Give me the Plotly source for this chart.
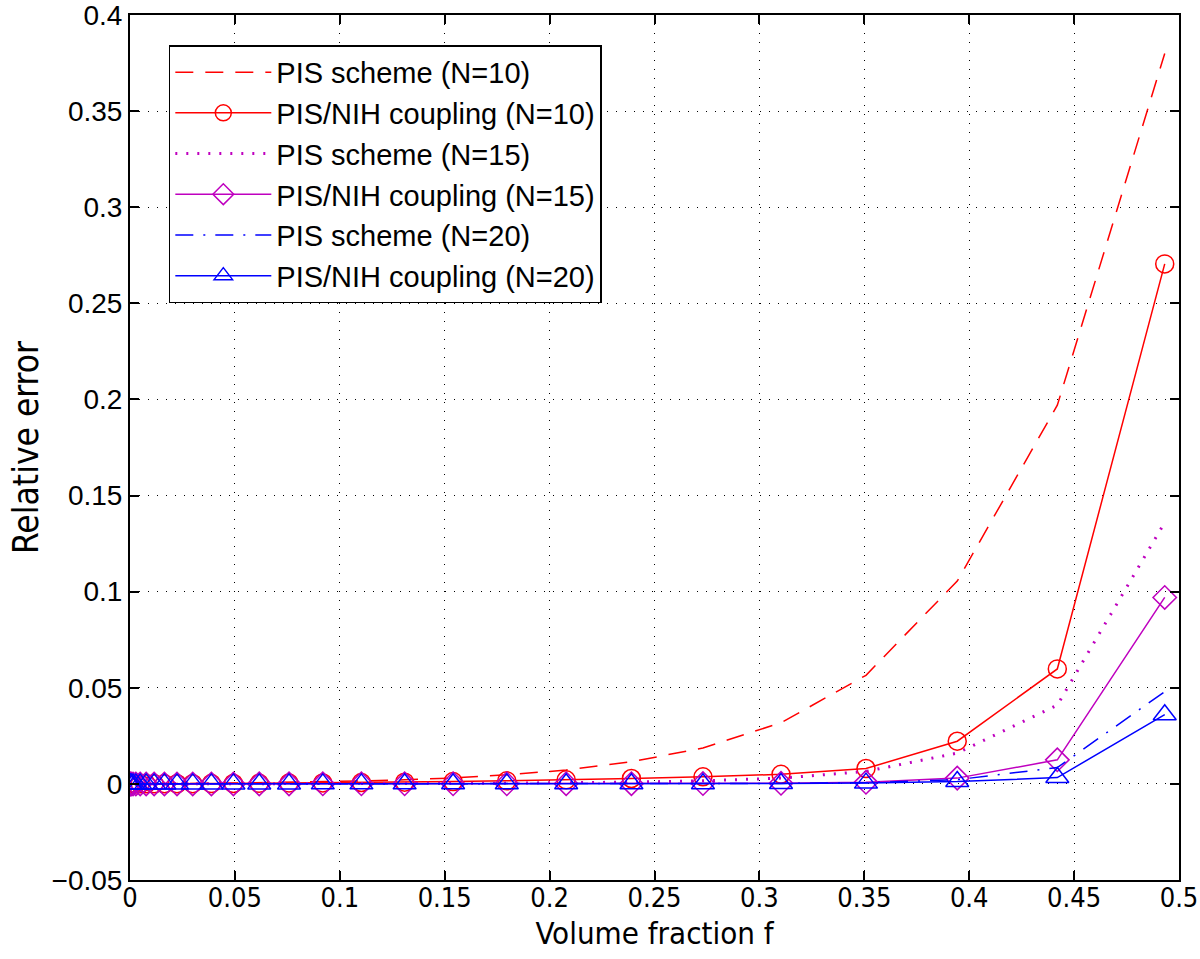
import plotly.graph_objects as go

# Volume fraction values (x)
f = [0.0000224, 0.00018, 0.0006, 0.00144, 0.0028, 0.00485, 0.0077, 0.0115,
     0.0164, 0.0224, 0.0299, 0.0388, 0.0493, 0.0616, 0.0758, 0.0919, 0.1103,
     0.1309, 0.154, 0.1796, 0.2079, 0.2390, 0.2731, 0.3103, 0.3508, 0.3943,
     0.4420, 0.4932]

pis10 = [0, 0, 0, 0, 0.00001, 0.00002, 0.00004, 0.00007, 0.0001, 0.00015,
         0.0002, 0.0003, 0.0004, 0.0006, 0.0008, 0.0011, 0.0015, 0.0021,
         0.0031, 0.0047, 0.0072, 0.0115, 0.0187, 0.0318, 0.0565, 0.1055,
         0.197, 0.380]
nih10 = [0, 0, 0, 0, 0, 0.00001, 0.00002, 0.00003, 0.00005, 0.00008, 0.0001,
         0.00015, 0.0002, 0.0003, 0.0004, 0.0005, 0.0007, 0.0009, 0.0012,
         0.0016, 0.0021, 0.0028, 0.0037, 0.0050, 0.0080, 0.0222, 0.0598,
         0.2705]
pis15 = [0, 0, 0, 0, 0, 0, 0, 0, 0, 0.00001, 0.00001, 0.00002, 0.00003,
         0.00004, 0.00006, 0.00009, 0.00013, 0.0002, 0.0003, 0.0004, 0.0006,
         0.0009, 0.0016, 0.0030, 0.0065, 0.016, 0.041, 0.136]
nih15 = [0, 0, 0, 0, 0, 0, 0, 0, 0, 0, 0, 0, 0, 0.00001, 0.00001, 0.00002,
         0.00003, 0.00004, 0.00006, 0.00008, 0.0001, 0.00013, 0.0002,
         0.0003, 0.0008, 0.003, 0.0125, 0.097]
pis20 = [0, 0, 0, 0, 0, 0, 0, 0, 0, 0, 0, 0, 0, 0, 0.00001, 0.00001,
         0.00002, 0.00003, 0.00004, 0.00005, 0.00007, 0.0001, 0.00015,
         0.00025, 0.0006, 0.0022, 0.0085, 0.048]
nih20 = [0, 0, 0, 0, 0, 0, 0, 0, 0, 0, 0, 0, 0, 0, 0, 0.00001, 0.00001,
         0.00002, 0.00003, 0.00004, 0.00005, 0.00007, 0.0001, 0.00018,
         0.0004, 0.0012, 0.0033, 0.036]

x_ticks = [0, 0.05, 0.1, 0.15, 0.2, 0.25, 0.3, 0.35, 0.4, 0.45, 0.5]
x_tick_text = ["0", "0.05", "0.1", "0.15", "0.2", "0.25", "0.3", "0.35", "0.4", "0.45", "0.5"]
y_ticks = [-0.05, 0, 0.05, 0.1, 0.15, 0.2, 0.25, 0.3, 0.35, 0.4]
y_tick_text = ["\u22120.05", "0", "0.05", "0.1", "0.15", "0.2", "0.25", "0.3", "0.35", "0.4"]

RED = "#FF0000"
MAG = "#BF00BF"
BLUE = "#0000FF"
FONT = "Liberation Sans, Arial, Helvetica, sans-serif"
NARROW = "Liberation Sans Narrow, Arial Narrow, DejaVu Sans Condensed, Liberation Sans, sans-serif"

fig = go.Figure()
fig.add_trace(go.Scatter(x=f, y=pis10, mode="lines", name="PIS scheme (N=10)",
                         line=dict(color=RED, width=1.5, dash="18px,12px")))
fig.add_trace(go.Scatter(x=f, y=nih10, mode="lines+markers", name="PIS/NIH coupling (N=10)",
                         line=dict(color=RED, width=1.5),
                         marker=dict(symbol="circle-open", size=18, color=RED,
                                     line=dict(width=1.5, color=RED))))
fig.add_trace(go.Scatter(x=f, y=pis15, mode="lines", name="PIS scheme (N=15)",
                         line=dict(color=MAG, width=3, dash="2px,9px")))
fig.add_trace(go.Scatter(x=f, y=nih15, mode="lines+markers", name="PIS/NIH coupling (N=15)",
                         line=dict(color=MAG, width=1.5),
                         marker=dict(symbol="diamond-open", size=18, color=MAG,
                                     line=dict(width=1.5, color=MAG))))
fig.add_trace(go.Scatter(x=f, y=pis20, mode="lines", name="PIS scheme (N=20)",
                         line=dict(color=BLUE, width=1.5, dash="18px,10px,2px,10px")))
fig.add_trace(go.Scatter(x=f, y=nih20, mode="lines+markers", name="PIS/NIH coupling (N=20)",
                         line=dict(color=BLUE, width=1.5),
                         marker=dict(symbol="triangle-up-open", size=20, color=BLUE,
                                     line=dict(width=1.5, color=BLUE))))

axis_common = dict(
    showline=True, linecolor="black", linewidth=2, mirror="allticks",
    ticks="inside", ticklen=9, tickwidth=1.5, tickcolor="black",
    showgrid=True, gridcolor="black", griddash="1px,8px", gridwidth=1,
    zeroline=False, automargin=False, ticklabeloverflow="allow",
)

fig.update_layout(
    width=1200, height=959,
    margin=dict(l=130, r=21, t=15, b=79),
    paper_bgcolor="white", plot_bgcolor="white",
    font=dict(family=FONT, color="black"),
    xaxis=dict(range=[0, 0.5], tickvals=x_ticks, ticktext=x_tick_text,
               tickfont=dict(family=NARROW, size=27, color="black"),
               ticklabelstandoff=-7,
               title=dict(text="Volume fraction f", font=dict(family=NARROW, size=31), standoff=10),
               **axis_common),
    yaxis=dict(range=[-0.05, 0.4], tickvals=y_ticks, ticktext=y_tick_text,
               tickfont=dict(family=FONT, size=28, color="black"),
               title=dict(text="Relative error", font=dict(family=NARROW, size=35), standoff=2),
               **axis_common),
    legend=dict(x=0.037, y=0.965, xanchor="left", yanchor="top",
                bgcolor="white", bordercolor="black", borderwidth=1.5,
                font=dict(family=FONT, size=29, color="black"),
                itemwidth=96, tracegroupgap=0),
    showlegend=True,
)

fig.write_html("out.html", config={"displayModeBar": False},
               post_script="document.body.style.margin='0';document.body.style.overflow='hidden';")
